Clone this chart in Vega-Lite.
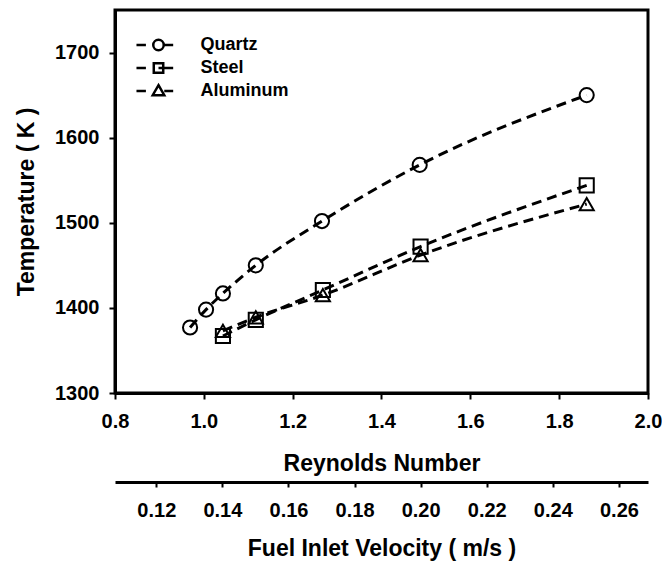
{
  "$schema": "https://vega.github.io/schema/vega-lite/v6.json",
  "autosize": {"type": "none"},
  "padding": {"left": 115, "top": 10, "right": 14, "bottom": 172},
  "width": 533,
  "height": 383,
  "config": {
    "font": "Liberation Sans",
    "view": {"stroke": "black", "strokeWidth": 3},
    "axis": {
      "grid": false,
      "domainColor": "black",
      "domainWidth": 3,
      "tickColor": "black",
      "tickWidth": 2,
      "tickSize": 6,
      "labelFont": "Liberation Sans",
      "labelFontSize": 20,
      "labelFontWeight": "bold",
      "labelColor": "black",
      "titleFont": "Liberation Sans",
      "titleFontSize": 23,
      "titleFontWeight": "bold",
      "titleColor": "black"
    }
  },
  "datasets": {
    "main": [
      {"material": "Quartz", "Re": 0.969, "T": 1377},
      {"material": "Quartz", "Re": 1.005, "T": 1398},
      {"material": "Quartz", "Re": 1.043, "T": 1417},
      {"material": "Quartz", "Re": 1.117, "T": 1450},
      {"material": "Quartz", "Re": 1.266, "T": 1502},
      {"material": "Quartz", "Re": 1.486, "T": 1568},
      {"material": "Quartz", "Re": 1.862, "T": 1650},
      {"material": "Steel", "Re": 1.043, "T": 1367},
      {"material": "Steel", "Re": 1.117, "T": 1386},
      {"material": "Steel", "Re": 1.268, "T": 1421},
      {"material": "Steel", "Re": 1.488, "T": 1472},
      {"material": "Steel", "Re": 1.862, "T": 1544},
      {"material": "Aluminum", "Re": 1.043, "T": 1373},
      {"material": "Aluminum", "Re": 1.117, "T": 1389},
      {"material": "Aluminum", "Re": 1.268, "T": 1415},
      {"material": "Aluminum", "Re": 1.488, "T": 1462},
      {"material": "Aluminum", "Re": 1.862, "T": 1522}
    ],
    "vel": [{"v": 0.12}, {"v": 0.26}]
  },
  "layer": [
    {
      "data": {"name": "main"},
      "encoding": {
        "x": {
          "field": "Re", "type": "quantitative",
          "scale": {"domain": [0.8, 2.0], "nice": false, "zero": false},
          "axis": {"title": "Reynolds Number", "values": [0.8, 1.0, 1.2, 1.4, 1.6, 1.8, 2.0], "format": ".1f", "labelPadding": 12, "titlePadding": 21, "labelFlush": false}
        },
        "y": {
          "field": "T", "type": "quantitative",
          "scale": {"domain": [1300, 1750], "nice": false, "zero": false},
          "axis": {"title": "Temperature ( K )", "values": [1300, 1400, 1500, 1600, 1700], "format": "d", "labelPadding": 10, "titlePadding": 16, "labelFlush": false}
        }
      },
      "resolve": {"scale": {"shape": "independent"}},
      "layer": [
        {
          "mark": {"type": "line", "interpolate": "monotone", "color": "black", "strokeWidth": 3, "strokeDash": [10, 6]},
          "encoding": {"detail": {"field": "material"}}
        },
        {
          "mark": {"type": "point", "filled": false, "color": "black", "strokeWidth": 2, "size": 200, "opacity": 1},
          "encoding": {
            "shape": {
              "field": "material", "type": "nominal",
              "scale": {"domain": ["Quartz", "Steel", "Aluminum"], "range": ["circle", "square", "triangle-up"]},
              "legend": null
            }
          }
        },
        {
          "mark": {"type": "point", "filled": false, "color": "black", "strokeWidth": 2, "opacity": 0},
          "encoding": {
            "shape": {
              "field": "material", "type": "nominal",
              "scale": {
                "domain": ["Quartz", "Steel", "Aluminum"],
                "range": [
                  "M-4.2,0H-2.4M-1,0A1,1,0,1,0,1,0A1,1,0,1,0,-1,0M1,0H2.8",
                  "M-4.2,0H-2.4M-0.9,-0.9H0.9V0.9H-0.9ZM0,0H2.8",
                  "M-4.2,0H-2.4M0,-1.1L1.1,0.8H-1.1ZM1.1,0H2.8"
                ]
              },
              "legend": {
                "title": null,
                "orient": "none",
                "legendX": 34.5,
                "legendY": 26,
                "padding": 0,
                "symbolSize": 110,
                "symbolOpacity": 1,
                "symbolStrokeColor": "black",
                "symbolFillColor": "transparent",
                "symbolStrokeWidth": 2.5,
                "labelFont": "Liberation Sans",
                "labelFontSize": 18,
                "labelFontWeight": "bold",
                "labelColor": "black",
                "labelOffset": 33,
                "rowPadding": 2
              }
            }
          }
        }
      ]
    },
    {
      "data": {"name": "vel"},
      "mark": {"type": "point", "opacity": 0},
      "encoding": {
        "x": {
          "field": "v", "type": "quantitative",
          "scale": {"domain": [0.1075, 0.2688], "nice": false, "zero": false},
          "axis": {"orient": "bottom", "offset": 89, "title": "Fuel Inlet Velocity ( m/s )", "values": [0.12, 0.14, 0.16, 0.18, 0.2, 0.22, 0.24, 0.26], "format": ".2f", "tickSize": 5, "labelPadding": 13, "titlePadding": 17}
        }
      }
    }
  ],
  "resolve": {"scale": {"x": "independent"}, "axis": {"x": "independent"}}
}
